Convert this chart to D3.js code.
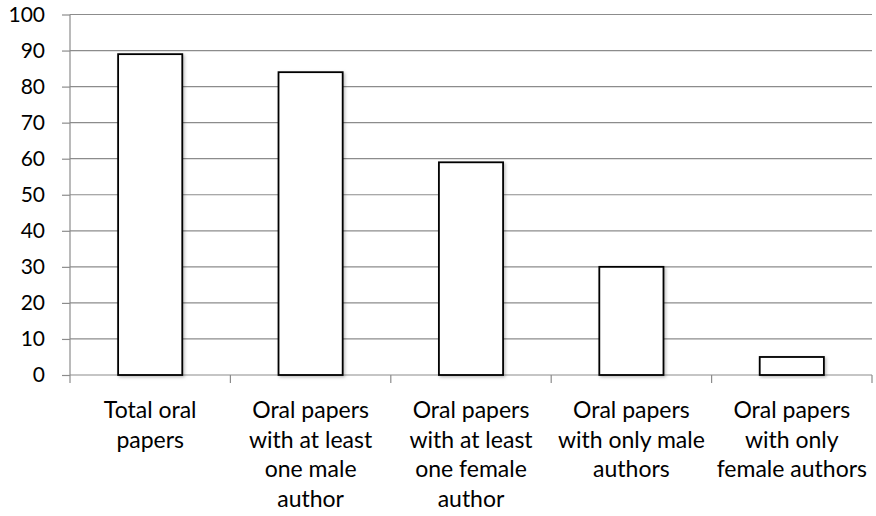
<!DOCTYPE html>
<html>
<head>
<meta charset="utf-8">
<script src="https://cdn.jsdelivr.net/npm/d3@7"></script>
<style>
  body { margin: 0; background: #fff; }
  svg text { font-family: Lato, "Open Sans", sans-serif; fill: #000; }
</style>
</head>
<body>
<svg width="876" height="516"></svg>
<script>
const categories = [
    ["Total oral", "papers"],
    ["Oral papers", "with at least", "one male", "author"],
    ["Oral papers", "with at least", "one female", "author"],
    ["Oral papers", "with only male", "authors"],
    ["Oral papers", "with only", "female authors"]
];
const values = [89, 84, 59, 30, 5];
const yTicks = [0, 10, 20, 30, 40, 50, 60, 70, 80, 90, 100];

const svg = d3.select("svg");
const margin = {top: 14.5, right: 4, bottom: 141, left: 70};
const width = 876 - margin.left - margin.right;
const height = 516 - margin.top - margin.bottom;

const g = svg.append("g").attr("transform", `translate(${margin.left},${margin.top})`);

const x = d3.scaleBand()
    .domain(d3.range(values.length))
    .range([0, width])
    .paddingInner(0.6)
    .paddingOuter(0.3);

const y = d3.scaleLinear()
    .domain([0, 100])
    .range([height, 0]);

// gridlines
g.append("g")
    .selectAll("line")
    .data(yTicks.filter(d => d > 0))
    .enter().append("line")
    .attr("x1", 0)
    .attr("x2", width)
    .attr("y1", d => y(d))
    .attr("y2", d => y(d))
    .attr("stroke", "#8c8c8c")
    .attr("stroke-width", 1.2);

// y axis
const yAxis = g.append("g")
    .call(d3.axisLeft(y).tickValues(yTicks).tickSize(8).tickPadding(17));
yAxis.selectAll("line").attr("stroke", "#8c8c8c").attr("stroke-width", 1.2);
yAxis.select(".domain").attr("stroke", "#8c8c8c").attr("stroke-width", 1.2).attr("d", `M0,${height}V0`);
yAxis.selectAll("text")
    .attr("font-size", 21)
    .attr("font-family", "Lato, sans-serif")
    .attr("fill", "#000");

// x axis with ticks between categories
const xAxis = g.append("g").attr("transform", `translate(0,${height})`);
xAxis.append("line")
    .attr("x1", 0).attr("x2", width)
    .attr("stroke", "#8c8c8c").attr("stroke-width", 1.2);
xAxis.selectAll(".tick")
    .data(d3.range(values.length + 1))
    .enter().append("line")
    .attr("x1", d => d * width / values.length)
    .attr("x2", d => d * width / values.length)
    .attr("y1", 0).attr("y2", 8)
    .attr("stroke", "#8c8c8c").attr("stroke-width", 1.2);

const labels = xAxis.selectAll("text")
    .data(categories)
    .enter().append("text")
    .attr("text-anchor", "middle")
    .attr("font-size", 23)
    .attr("transform", (d, i) => `translate(${x(i) + x.bandwidth() / 2},0)`);
labels.selectAll("tspan")
    .data(d => d)
    .enter().append("tspan")
    .attr("x", 0)
    .attr("y", (d, i) => 43 + i * 29.7)
    .text(d => d);

// shadow
const defs = svg.append("defs");
const f = defs.append("filter").attr("id", "shadow").attr("x", "-20%").attr("y", "-20%").attr("width", "140%").attr("height", "140%");
f.append("feDropShadow").attr("dx", 1.5).attr("dy", 1.5).attr("stdDeviation", 1.5).attr("flood-color", "#000").attr("flood-opacity", 0.25);

// bars
g.append("g")
    .selectAll("rect")
    .data(values)
    .enter().append("rect")
    .attr("x", (d, i) => x(i))
    .attr("y", d => y(d))
    .attr("width", x.bandwidth())
    .attr("height", d => height - y(d))
    .attr("fill", "#fff")
    .attr("stroke", "#000")
    .attr("stroke-width", 1.8)
    .attr("filter", "url(#shadow)");
</script>
</body>
</html>
